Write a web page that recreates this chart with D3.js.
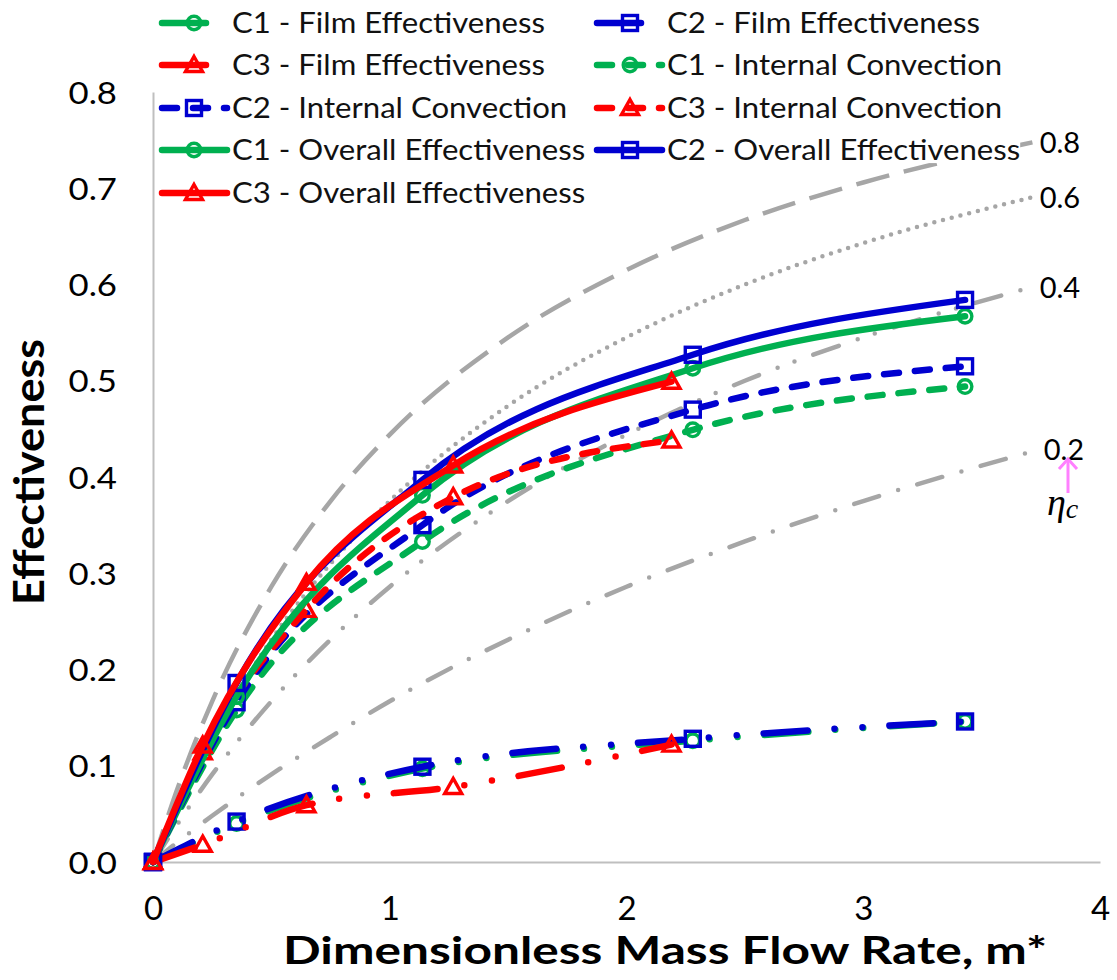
<!DOCTYPE html>
<html>
<head>
<meta charset="utf-8">
<script src="https://cdn.jsdelivr.net/npm/d3@7"></script>
<style>
  html, body { margin: 0; padding: 0; background: #fff; }
  svg { display: block; }
</style>
</head>
<body>
<svg id="chart" width="1117" height="980"></svg>
<script>
// Dimensionless mass flow rate (m*) at which each case was measured
const mC1 = [0, 0.353, 1.138, 2.28, 3.43];
const mC2 = [0, 0.353, 1.138, 2.28, 3.43];
const mC3 = [0, 0.21, 0.648, 1.268, 2.19];

// Film effectiveness
const filmC1 = [0, 0.040, 0.097, 0.126, 0.146];
const filmC2 = [0, 0.042, 0.099, 0.128, 0.146];
const filmC3 = [0, 0.018, 0.059, 0.078, 0.122];

// Internal convection
const internalC1 = [0, 0.158, 0.333, 0.449, 0.494];
const internalC2 = [0, 0.166, 0.350, 0.470, 0.515];
const internalC3 = [0, 0.114, 0.262, 0.379, 0.438];

// Overall effectiveness
const overallC1 = [0, 0.172, 0.381, 0.513, 0.567];
const overallC2 = [0, 0.186, 0.397, 0.527, 0.584];
const overallC3 = [0, 0.121, 0.290, 0.412, 0.499];

// Reference curves for constant internal cooling efficiency (eta_c)
const refM  = [0, 0.1, 0.25, 0.5, 0.75, 1, 1.5, 2, 2.5, 3, 3.72];
const ref08 = [0, 0.074, 0.167, 0.286, 0.375, 0.444, 0.545, 0.615, 0.667, 0.706, 0.748];
const ref06 = [0, 0.057, 0.130, 0.231, 0.310, 0.375, 0.474, 0.545, 0.600, 0.643, 0.691];
const ref04 = [0, 0.038, 0.091, 0.167, 0.231, 0.286, 0.375, 0.444, 0.500, 0.545, 0.598];
const ref02 = [0, 0.020, 0.048, 0.091, 0.130, 0.167, 0.231, 0.286, 0.333, 0.375, 0.427];
const refLabels = ["0.8", "0.6", "0.4", "0.2"];

// Axis ticks
const xTicks = [0, 1, 2, 3, 4];
const yTicks = [0, 0.1, 0.2, 0.3, 0.4, 0.5, 0.6, 0.7, 0.8];

const GREEN = "#00b050", BLUE = "#0000d0", RED = "#ff0000", GRAY = "#a6a6a6";
const FONT = "Lato, 'Open Sans', sans-serif";

const svg = d3.select("#chart");
const x = d3.scaleLinear().domain([0, 4]).range([153, 1100]);
const y = d3.scaleLinear().domain([0, 0.8]).range([862, 92]);

// stretch text horizontally by a factor
function stretch(sel, factor) {
  sel.each(function () {
    const w = this.getComputedTextLength();
    d3.select(this).attr("textLength", w * factor).attr("lengthAdjust", "spacingAndGlyphs");
  });
}

// ---- axes ----
const gx = svg.append("g").attr("transform", `translate(0,${y(0)})`)
  .call(d3.axisBottom(x).tickValues(xTicks).tickSize(0).tickFormat(d3.format("d")));
gx.select(".domain").attr("stroke", "#bfbfbf").attr("stroke-width", 2);
gx.selectAll("text").attr("font-family", FONT).attr("font-size", 33).attr("fill", "#000")
  .attr("y", 58).attr("dy", 0);

const gy = svg.append("g").attr("transform", `translate(${x(0)},0)`)
  .call(d3.axisLeft(y).tickValues(yTicks).tickSize(0).tickFormat(d3.format(".1f")));
gy.select(".domain").attr("stroke", "#bfbfbf").attr("stroke-width", 2);
gy.selectAll("text").attr("font-family", FONT).attr("font-size", 31).attr("fill", "#000")
  .attr("x", -36).attr("dy", "0.36em");
stretch(gy.selectAll("text"), 1.12);

// axis titles
svg.append("text").attr("x", 283).attr("y", 964)
  .attr("font-family", FONT).attr("font-weight", "bold").attr("font-size", 38)
  .attr("textLength", 764).attr("lengthAdjust", "spacingAndGlyphs")
  .text("Dimensionless Mass Flow Rate, m*");

svg.append("text").attr("transform", "translate(44,472) rotate(-90)")
  .attr("text-anchor", "middle")
  .attr("font-family", FONT).attr("font-weight", "bold").attr("font-size", 42)
  .attr("textLength", 266).attr("lengthAdjust", "spacingAndGlyphs")
  .text("Effectiveness");

// ---- reference curves ----
const refs = [
  { v: ref08, dash: "34,15", cap: "butt", dx: 6, dy: 0 },
  { v: ref06, dash: "0,9", cap: "round", dx: 6, dy: 0 },
  { v: ref04, dash: "27,20,0,18,0,20", cap: "round", dx: 6, dy: 0 },
  { v: ref02, dash: "26,20,0,20", cap: "round", dx: 10, dy: -2 }
];
const refLine = d3.line().x(d => x(d[0])).y(d => y(d[1])).curve(d3.curveMonotoneX);
refs.forEach((r, i) => {
  const pts = refM.map((m, k) => [m, r.v[k]]);
  svg.append("path").attr("d", refLine(pts)).attr("fill", "none")
    .attr("stroke", GRAY).attr("stroke-width", 4.5)
    .attr("stroke-dasharray", r.dash).attr("stroke-linecap", r.cap);
  const last = pts[pts.length - 1];
  svg.append("text").attr("x", x(last[0]) + r.dx).attr("y", y(last[1]) + 1 + r.dy)
    .attr("dy", "0.36em").attr("font-family", FONT).attr("font-size", 29)
    .text(refLabels[i]);
});

// eta_c pointer
const pink = "#ff80ff";
svg.append("line").attr("x1", 1068).attr("y1", 493).attr("x2", 1068).attr("y2", 459)
  .attr("stroke", pink).attr("stroke-width", 3);
svg.append("polyline").attr("points", "1059,469 1068,459 1077,469")
  .attr("fill", "none").attr("stroke", pink).attr("stroke-width", 3);
const eta = svg.append("text").attr("x", 1047).attr("y", 515)
  .attr("font-family", "'Liberation Serif', 'DejaVu Serif', serif").attr("font-style", "italic")
  .attr("font-size", 38);
eta.append("tspan").text("η");
eta.append("tspan").attr("font-size", 28).attr("dy", 3).text("c");

// ---- data series ----
const FILM_DASH = "44,27,0,28,0,27";
const INT_DASH = "15,16";
const series = [
  { name: "C1 - Film Effectiveness", m: mC1, v: filmC1, color: GREEN, dash: FILM_DASH, marker: "circle" },
  { name: "C2 - Film Effectiveness", m: mC2, v: filmC2, color: BLUE, dash: FILM_DASH, marker: "square" },
  { name: "C3 - Film Effectiveness", m: mC3, v: filmC3, color: RED, dash: FILM_DASH, marker: "triangle" },
  { name: "C1 - Internal Convection", m: mC1, v: internalC1, color: GREEN, dash: INT_DASH, marker: "circle" },
  { name: "C2 - Internal Convection", m: mC2, v: internalC2, color: BLUE, dash: INT_DASH, marker: "square" },
  { name: "C3 - Internal Convection", m: mC3, v: internalC3, color: RED, dash: INT_DASH, marker: "triangle" },
  { name: "C1 - Overall Effectiveness", m: mC1, v: overallC1, color: GREEN, dash: null, marker: "circle" },
  { name: "C2 - Overall Effectiveness", m: mC2, v: overallC2, color: BLUE, dash: null, marker: "square" },
  { name: "C3 - Overall Effectiveness", m: mC3, v: overallC3, color: RED, dash: null, marker: "triangle" }
];

function drawMarker(g, type, cx, cy, color) {
  const sw = 3.4;
  if (type === "circle") {
    g.append("circle").attr("cx", cx).attr("cy", cy).attr("r", 6.8)
      .attr("fill", "none").attr("stroke", color).attr("stroke-width", sw);
  } else if (type === "square") {
    g.append("rect").attr("x", cx - 7.5).attr("y", cy - 7.5).attr("width", 15).attr("height", 15)
      .attr("fill", "none").attr("stroke", color).attr("stroke-width", sw);
  } else {
    g.append("path").attr("d", `M${cx},${cy - 8.5}L${cx + 8.5},${cy + 6.5}L${cx - 8.5},${cy + 6.5}Z`)
      .attr("fill", "none").attr("stroke", color).attr("stroke-width", sw).attr("stroke-linejoin", "miter");
  }
}

const dataLine = d3.line().x(d => x(d[0])).y(d => y(d[1])).curve(d3.curveMonotoneX);
series.forEach(s => {
  const pts = s.m.map((m, k) => [m, s.v[k]]);
  const g = svg.append("g");
  g.append("path").attr("d", dataLine(pts)).attr("fill", "none")
    .attr("stroke", s.color).attr("stroke-width", 6.5)
    .attr("stroke-linecap", "round").attr("stroke-linejoin", "round")
    .attr("stroke-dasharray", s.dash);
  pts.forEach(p => drawMarker(g, s.marker, x(p[0]), y(p[1]), s.color));
});

// ---- legend ----
const legendRows = [23, 65, 108, 150, 193];
const legendCols = [{ sx: 162, mx: 194, tx: 232 }, { sx: 597, mx: 630, tx: 667 }];
const lg = svg.append("g");
const probe = lg.append("text").attr("font-family", FONT).attr("font-size", 28)
  .text("C1 - Film Effectiveness");
const legendStretch = 313 / probe.node().getComputedTextLength();
probe.remove();

series.forEach((s, i) => {
  const col = legendCols[i % 2];
  const cy = legendRows[Math.floor(i / 2)];
  const g = lg.append("g");
  const bg = g.append("rect").attr("fill", "#fff");
  g.append("line").attr("x1", col.sx).attr("x2", col.sx + 65).attr("y1", cy).attr("y2", cy)
    .attr("stroke", s.color).attr("stroke-width", 6.5).attr("stroke-linecap", "round")
    .attr("stroke-dasharray", s.dash);
  drawMarker(g, s.marker, col.mx, cy, s.color);
  const t = g.append("text").attr("x", col.tx).attr("y", cy).attr("dy", "0.36em")
    .attr("font-family", FONT).attr("font-size", 28).attr("fill", "#111").text(s.name);
  stretch(t, legendStretch);
  const bb = t.node().getBBox();
  bg.attr("x", bb.x).attr("y", bb.y + 3).attr("width", bb.width).attr("height", bb.height - 6);
});
</script>
</body>
</html>
